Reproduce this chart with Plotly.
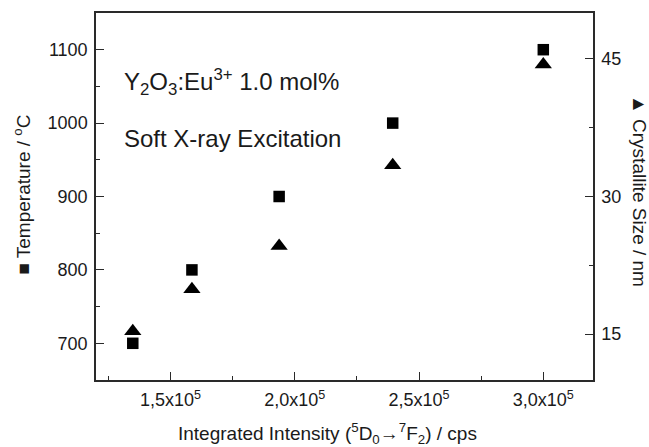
import plotly.graph_objects as go

# Integrated 5D0->7F2 emission intensity (cps) for each annealing temperature
intensity = [1.348e5, 1.586e5, 1.937e5, 2.394e5, 3.0e5]
temperature_c = [700, 800, 900, 1000, 1100]
crystallite_nm = [15.3, 19.9, 24.6, 33.4, 44.4]

x_tickvals = [1.5e5, 2.0e5, 2.5e5, 3.0e5]
x_ticktext = ["1,5x10<sup>5</sup>", "2,0x10<sup>5</sup>", "2,5x10<sup>5</sup>", "3,0x10<sup>5</sup>"]
left_tickvals = [700, 800, 900, 1000, 1100]
right_tickvals = [15, 30, 45]

FONT = "Liberation Sans, Arial, sans-serif"
INK = "#1a1a1a"
AXIS = "#2a2a2a"

fig = go.Figure()

fig.add_trace(go.Scatter(
    x=intensity, y=temperature_c, mode="markers",
    marker=dict(symbol="square", size=11.5, color="black", line=dict(width=0)),
    name="Temperature", yaxis="y",
))
fig.add_trace(go.Scatter(
    x=intensity, y=crystallite_nm, mode="markers",
    marker=dict(symbol="triangle-up", size=15, color="black", line=dict(width=0)),
    name="Crystallite Size", yaxis="y2",
))

axis_common = dict(
    showgrid=False, zeroline=False, showline=True, linecolor=AXIS, linewidth=1.5,
    ticks="inside", ticklen=8, tickwidth=1.3, tickcolor=AXIS,
    tickfont=dict(family=FONT, size=18, color=INK),
)

fig.update_layout(
    width=649, height=447,
    margin=dict(l=96, r=56, t=11, b=67),
    paper_bgcolor="white", plot_bgcolor="white",
    showlegend=False,
    font=dict(family=FONT, size=18, color=INK),
    xaxis=dict(
        **axis_common, range=[1.2e5, 3.2e5], mirror=True,
        tickvals=x_tickvals, ticktext=x_ticktext, ticklabelstandoff=3,
        minor=dict(ticks="inside", ticklen=4, tickwidth=1.2, tickcolor=AXIS,
                   tickvals=[1.25e5, 1.75e5, 2.25e5, 2.75e5]),
    ),
    yaxis=dict(
        **axis_common, range=[650, 1150], mirror=True,
        tickvals=left_tickvals, ticklabelstandoff=3,
        minor=dict(ticks="inside", ticklen=4, tickwidth=1.2, tickcolor=AXIS,
                   tickvals=[750, 850, 950, 1050]),
    ),
    yaxis2=dict(
        **axis_common, range=[10, 50], overlaying="y", side="right",
        tickvals=right_tickvals, ticklabelstandoff=3,
        minor=dict(ticks="inside", ticklen=4, tickwidth=1.2, tickcolor=AXIS,
                   tickvals=[22.5, 37.5]),
    ),
)

annotations = [
    dict(text="Y<sub>2</sub>O<sub>3</sub>:Eu<sup>3+</sup> 1.0 mol%",
         x=0.052, y=0.813, xanchor="left", yanchor="middle", size=24),
    dict(text="Soft X-ray Excitation",
         x=0.052, y=0.659, xanchor="left", yanchor="middle", size=24),
    dict(text="Integrated Intensity (<sup>5</sup>D<sub>0</sub>\u2192<sup>7</sup>F<sub>2</sub>) / cps",
         x=0.465, y=-0.147, xanchor="center", yanchor="middle", size=19),
    dict(text="\u25a0 Temperature / <sup>o</sup>C", textangle=-90,
         x=-0.149, y=0.505, xanchor="center", yanchor="middle", size=19),
    dict(text="\u25b2 Crystallite Size / nm", textangle=90,
         x=1.0926, y=0.515, xanchor="center", yanchor="middle", size=19),
]
for a in annotations:
    a = dict(a)
    size = a.pop("size")
    fig.add_annotation(xref="paper", yref="paper", showarrow=False,
                       font=dict(family=FONT, size=size, color=INK), **a)

fig.write_html("out.html")
